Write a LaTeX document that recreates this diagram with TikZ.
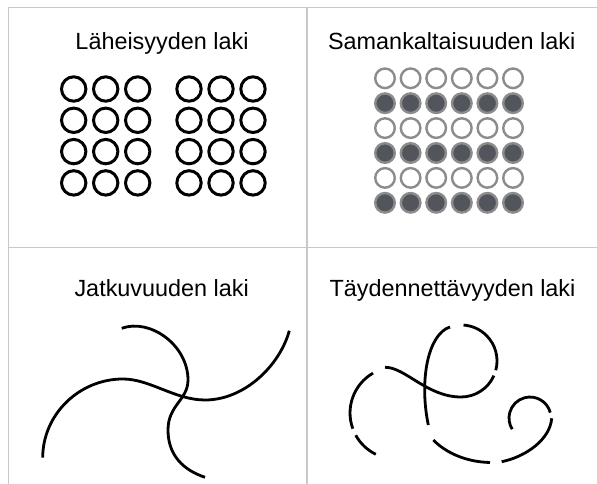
\documentclass[tikz,border=0pt]{standalone}
\usepackage{fontspec}
\setmainfont{Liberation Sans}
\definecolor{gridgray}{RGB}{200, 200, 200}
\definecolor{ringgray}{RGB}{140, 140, 140}
\definecolor{dotdark}{RGB}{82, 85, 92}
\tikzset{
    lawtitle/.style={font=\fontsize{23.4}{28}\selectfont, anchor=base, inner sep=0pt},
    ring/.style={draw=black, line width=3pt},
    dotopen/.style={draw=ringgray, fill=white, line width=2.4pt},
    dotfull/.style={draw=ringgray, fill=dotdark, line width=2.4pt},
    curve/.style={draw=black, line width=2.8pt}
}

\begin{document}
\begin{tikzpicture}[x=1pt,y=1pt]
    \useasboundingbox (0,0) rectangle (597,484);

    % Grid
    \draw[gridgray, line width=1.5pt] (597,476.5) -- (8.5,476.5) -- (8.5,0);
    \draw[gridgray, line width=1.5pt] (307,476.5) -- (307,0);
    \draw[gridgray, line width=1.5pt] (8.5,236.3) -- (597,236.3);

    % Proximity
    \node[lawtitle] (lahe) at (162,434.7) {Läheisyyden laki};
    \foreach \x in {73.7,105.7,137.7,189,221,253}
        \foreach \y in {395,363.7,332.4,301.1}
            \draw[ring] (\x,\y) circle[radius=12.2pt];

    % Similarity
    \node[lawtitle] (saman) at (451.7,434.7) {Samankaltaisuuden laki};
    \foreach \x in {385,410.6,436.2,461.8,487.4,513} {
        \foreach \y in {405.7,355.9,306.1}
            \draw[dotopen] (\x,\y) circle[radius=9.8pt];
        \foreach \y in {380.8,331,281.2}
            \draw[dotfull] (\x,\y) circle[radius=9.8pt];
    }

    % Continuity
    \node[lawtitle] (jatku) at (161.7,187.3) {Jatkuvuuden laki};
    \draw[curve] (42.7,26.3) .. controls (42.7,69.2) and (78.8,105) .. (123,105)
        .. controls (150,105) and (175,84) .. (205,84)
        .. controls (245,84) and (280,119) .. (289.3,153.3);
    \draw[curve] (121.7,155.7) .. controls (150,166) and (188,139) .. (188,104)
        .. controls (188,84) and (168,79) .. (168,54)
        .. controls (168,29) and (183,14) .. (205,6.7);

    % Closure
    \node[lawtitle] (tayd) at (452.5,187.3) {Täydennettävyyden laki};
    \draw[curve] (375.8,29.7) arc[start angle=244, end angle=209, radius=46pt];
    \draw[curve] (352.8,55.3) arc[start angle=200, end angle=120, radius=46pt];
    \draw[curve] (385,116.7) .. controls (405,117) and (427,87) .. (461,87)
        arc[start angle=-90, end angle=-24, radius=36pt];
    \draw[curve] (495.8,113.7) arc[start angle=-15, end angle=86, radius=36pt];
    \draw[curve] (450,157) .. controls (428,150) and (419,104) .. (428.3,59);
    \draw[curve] (433.3,44) .. controls (445,32) and (465,22) .. (490,21.5);
    \draw[curve] (501.7,22.3) .. controls (525,27) and (550,44) .. (551.7,65.7);
    \draw[curve] (550.3,71.4) arc[start angle=15, end angle=212, radius=21pt];
\end{tikzpicture}
\end{document}
